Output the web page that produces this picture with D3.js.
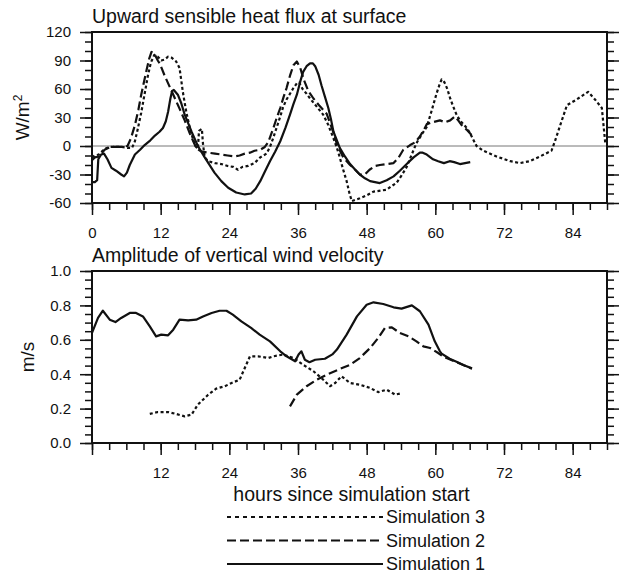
<!DOCTYPE html>
<html>
<head>
<meta charset="utf-8">
<script src="https://cdn.jsdelivr.net/npm/d3@7"></script>
<style>
	body { margin: 0; background: #fff; }
	svg text { font-family: "Liberation Sans", Arial, Helvetica, sans-serif; fill: #111; }
	.tick line { stroke: #111; stroke-width: 1.5; }
	.domain { display: none; }
</style>
</head>
<body>
<div id="chart"></div>
<script>
// hours since start, value
var flux1 = [[0,-38],[0.5,-38],[0.9,-36],[1.1,-14],[1.6,-9],[2.1,-8],[2.7,-14],[3.4,-23],[4.2,-26],[5.1,-30],[5.6,-32],[6.1,-28],[6.6,-20],[7.5,-9],[8.4,-4],[9.2,1],[10.2,6],[11.0,11],[11.8,15],[12.4,19],[12.9,26],[13.3,36],[13.7,50],[14.0,58],[14.3,59],[15.0,54],[15.6,45],[16.2,33],[16.8,24],[17.4,15],[18.5,0],[19.7,-12],[21.4,-28],[22.6,-37],[23.8,-44],[25.2,-49],[26.7,-51],[27.8,-50],[28.6,-45],[29.4,-37],[30.2,-27],[31.1,-16],[32.0,-6],[32.9,5],[33.8,19],[34.6,33],[35.2,44],[35.8,54],[36.4,68],[36.9,78],[37.5,84],[38.1,87],[38.6,87],[39.0,84],[39.6,75],[40.1,64],[40.7,52],[41.3,40],[41.8,27],[42.2,15],[43.3,-2],[44.2,-11],[45.1,-19],[46.0,-25],[46.8,-30],[47.7,-34],[48.6,-37],[50.3,-39],[51.5,-36],[52.7,-32],[53.8,-26],[55.0,-19],[56.2,-12],[57.3,-7],[57.8,-7],[58.5,-9],[59.6,-14],[60.5,-16],[61.5,-18],[62.5,-16],[63.3,-17],[64.3,-19],[65.2,-18],[66.1,-17]];
var flux2 = [[0,-15],[0.5,-12],[1.2,-11],[2.2,-4],[3.2,-1],[4.2,-1],[5.2,-1],[6.2,0],[6.8,8],[7.5,22],[8.1,38],[8.6,54],[9.1,68],[9.5,79],[10.0,92],[10.4,99],[10.9,97],[11.5,90],[11.9,86],[12.7,74],[13.6,62],[14.5,50],[15.4,38],[16.2,27],[17.1,13],[17.7,5],[18.3,-3],[19.2,-6],[20.3,-7],[21.5,-8],[22.6,-9],[23.7,-10],[24.9,-11],[25.8,-10],[26.7,-8],[27.6,-7],[28.4,-5],[29.4,-4],[30.2,-1],[30.8,4],[31.7,19],[32.3,30],[32.9,40],[33.5,52],[34.0,61],[34.6,74],[35.2,85],[35.8,89],[36.4,82],[37.0,70],[37.8,58],[38.7,50],[39.8,42],[41.0,34],[41.6,24],[42.2,14],[42.8,2],[43.9,-12],[45.1,-20],[46.0,-25],[46.8,-30],[47.7,-30],[48.5,-25],[49.5,-21],[50.3,-20],[51.5,-19],[52.7,-18],[53.6,-12],[54.4,-4],[55.6,1],[56.5,4],[57.3,10],[58.0,17],[58.5,23],[59.5,25],[60.8,27],[61.7,25],[62.6,27],[63.4,31],[64.0,27],[64.6,22],[65.5,17],[66.4,11]];
var flux3 = [[0,-12],[0.5,-10],[1.2,-9],[2.2,-3],[3.2,-1],[4.2,-1],[5.2,-1],[6.2,-2],[7.0,-2],[7.5,5],[8.0,18],[8.6,35],[9.2,55],[9.8,75],[10.3,88],[10.9,96],[11.5,94],[12.1,90],[12.7,91],[13.3,94],[13.9,93],[14.7,89],[15.3,82],[15.9,56],[16.5,35],[17.1,19],[17.7,6],[18.2,-1],[18.5,-3],[18.7,16],[19.2,18],[19.4,2],[19.7,-12],[20.3,-16],[21.5,-18],[22.6,-19],[23.7,-21],[24.7,-22],[25.5,-25],[26.3,-22],[27.3,-21],[28.4,-18],[29.4,-12],[30.5,-8],[31.1,-1],[31.7,9],[32.3,20],[32.9,31],[33.4,41],[34.0,49],[34.6,55],[35.2,61],[35.8,66],[36.2,67],[36.8,60],[37.5,55],[38.1,50],[39.2,42],[40.4,33],[41.3,22],[42.2,8],[42.8,-2],[43.3,-12],[43.9,-25],[44.5,-37],[45.0,-50],[45.4,-58],[46.8,-55],[48.0,-52],[49.2,-48],[50.4,-47],[51.5,-46],[52.4,-42],[53.2,-39],[54.1,-31],[55.0,-22],[55.8,-10],[56.7,3],[57.6,12],[58.5,20],[59.3,36],[60.2,55],[60.7,64],[61.1,70],[61.6,67],[62.1,60],[62.6,50],[63.1,42],[63.7,33],[64.3,27],[65.5,19],[66.1,13],[67.2,0],[68.4,-5],[70.7,-11],[73.1,-16],[74.8,-18],[76.5,-16],[78.3,-11],[80.3,-5],[80.9,5],[82.0,25],[83.0,43],[84.7,49],[86.7,57],[87.9,49],[89.1,40],[89.7,3]];

var amp1 = [[0,0.64],[1.05,0.727],[1.9,0.769],[3.1,0.717],[4.1,0.703],[5.1,0.727],[6.6,0.756],[7.7,0.756],[8.9,0.736],[10.1,0.678],[11.2,0.62],[12.1,0.63],[13.3,0.626],[14.2,0.659],[15.3,0.717],[16.8,0.713],[18.2,0.717],[19.4,0.736],[20.9,0.756],[22.3,0.769],[23.5,0.769],[24.6,0.746],[26.1,0.707],[27.8,0.669],[29.3,0.63],[31.1,0.591],[32.9,0.533],[34.0,0.504],[35.5,0.475],[36.1,0.514],[36.6,0.533],[37.2,0.484],[38.0,0.47],[39.0,0.484],[40.7,0.49],[42.0,0.515],[42.8,0.543],[44.5,0.63],[46.3,0.736],[48.0,0.804],[49.2,0.818],[50.9,0.808],[52.7,0.789],[54.1,0.781],[55.9,0.80],[57.3,0.766],[58.8,0.688],[59.9,0.591],[60.8,0.533],[61.1,0.52],[62.5,0.49],[63.7,0.473],[65.0,0.452],[66.4,0.434]];
var amp2 = [[34.6,0.213],[35.8,0.281],[37.5,0.33],[39.3,0.368],[41,0.397],[43,0.426],[45.1,0.455],[46.8,0.494],[48.6,0.552],[50,0.61],[51.2,0.669],[52.4,0.672],[53.8,0.64],[55.3,0.62],[56.7,0.591],[57.9,0.562],[59.1,0.552],[60.5,0.523],[61.5,0.5],[63.7,0.47],[66.4,0.432]];
var amp3 = [[10.1,0.169],[11.5,0.18],[13.3,0.18],[14.7,0.169],[16.2,0.155],[17.4,0.165],[18.5,0.223],[20.3,0.281],[21.7,0.316],[23.2,0.33],[24.4,0.349],[25.8,0.368],[26.7,0.436],[27.6,0.504],[29,0.504],[30.8,0.494],[31.7,0.504],[33.4,0.514],[35.2,0.494],[36.9,0.455],[38.7,0.417],[40.1,0.378],[41.6,0.33],[42.5,0.349],[43.6,0.388],[45.1,0.349],[46.8,0.339],[48.6,0.32],[50,0.296],[51.5,0.31],[53,0.281],[54.1,0.29]];

var hourTicks = [0, 12, 24, 36, 48, 60, 72, 84];
var fluxTicks = [-60, -30, 0, 30, 60, 90, 120];
var ampTicks = [0, 0.2, 0.4, 0.6, 0.8, 1.0];
var simNames = ["Simulation 3", "Simulation 2", "Simulation 1"];

var width = 624, height = 588;
var left = 92, right = 607;
var dashes = {1: null, 2: "9,4", 3: "3,2.5"};

var svg = d3.select("#chart").append("svg")
	.attr("width", width)
	.attr("height", height);

var x = d3.scaleLinear().domain([0, 90]).range([left, right]);
var yFlux = d3.scaleLinear().domain([-60, 120]).range([203, 32]);
var yAmp = d3.scaleLinear().domain([0, 1]).range([443, 271]);

function panel(y, yTicks, yMinorStep, yFmt, showZeroLabel, title, ylab, ylabX, series) {
	var top = y.range()[1], bottom = y.range()[0];
	var g = svg.append("g");
	var ydom = y.domain();

	// minor ticks
	g.append("g").attr("transform", "translate(0," + bottom + ")")
		.call(d3.axisBottom(x).tickValues(d3.range(0, 91, 3)).tickSize(7).tickFormat(""));
	g.append("g").attr("transform", "translate(" + left + ",0)")
		.call(d3.axisLeft(y).tickValues(d3.range(ydom[0], ydom[1] + 1e-9, yMinorStep)).tickSize(7).tickFormat(""));
	g.append("g").attr("transform", "translate(" + right + ",0)")
		.call(d3.axisRight(y).tickValues(d3.range(ydom[0], ydom[1] + 1e-9, yMinorStep)).tickSize(7).tickFormat(""));

	// major ticks
	var xt = showZeroLabel ? hourTicks : hourTicks.filter(function(d){ return d > 0; });
	g.append("g").attr("transform", "translate(0," + bottom + ")")
		.call(d3.axisBottom(x).tickValues(hourTicks).tickSize(12).tickPadding(12)
			.tickFormat(function(d){ return xt.indexOf(d) >= 0 ? d : ""; }))
		.selectAll("text").style("font-size", "15px");
	g.append("g").attr("transform", "translate(" + left + ",0)")
		.call(d3.axisLeft(y).tickValues(yTicks).tickSize(12).tickPadding(9).tickFormat(yFmt))
		.selectAll("text").style("font-size", "15px");
	g.append("g").attr("transform", "translate(" + right + ",0)")
		.call(d3.axisRight(y).tickValues(yTicks).tickSize(12).tickFormat(""));

	if (ydom[0] < 0) {
		g.append("line")
			.attr("x1", left).attr("x2", right)
			.attr("y1", y(0)).attr("y2", y(0))
			.attr("stroke", "#777").attr("stroke-width", 1);
	}

	var line = d3.line().x(function(d){ return x(d[0]); }).y(function(d){ return y(d[1]); });
	series.forEach(function(s) {
		g.append("path")
			.datum(s.data)
			.attr("fill", "none")
			.attr("stroke", "#111")
			.attr("stroke-width", 2.2)
			.attr("stroke-linejoin", "round")
			.attr("stroke-dasharray", dashes[s.sim])
			.attr("d", line);
	});

	g.append("rect")
		.attr("x", left).attr("y", top)
		.attr("width", right - left).attr("height", bottom - top)
		.attr("fill", "none").attr("stroke", "#111").attr("stroke-width", 2);

	g.append("text")
		.attr("x", left).attr("y", top - 9)
		.style("font-size", "19.5px")
		.text(title);

	var yl = g.append("text")
		.attr("transform", "translate(" + ylabX + "," + ((top + bottom) / 2) + ") rotate(-90)")
		.attr("text-anchor", "middle")
		.style("font-size", "19px");
	yl.append("tspan").text(ylab[0]);
	if (ylab[1]) yl.append("tspan").attr("dy", "-0.55em").style("font-size", "12px").text(ylab[1]);
}

panel(yFlux, fluxTicks, 10, function(d){ return d; }, true,
	"Upward sensible heat flux at surface", ["W/m", "2"], 29,
	[{sim: 1, data: flux1}, {sim: 2, data: flux2}, {sim: 3, data: flux3}]);

panel(yAmp, ampTicks, 0.05, d3.format(".1f"), false,
	"Amplitude of vertical wind velocity", ["m/s"], 34,
	[{sim: 1, data: amp1}, {sim: 2, data: amp2}, {sim: 3, data: amp3}]);

svg.append("text")
	.attr("x", (left + right) / 2 + 2).attr("y", 501)
	.attr("text-anchor", "middle")
	.style("font-size", "19.5px")
	.text("hours since simulation start");

// legend
var leg = svg.append("g");
simNames.forEach(function(name, i) {
	var yy = 517 + i * 23.5;
	var sim = 3 - i;
	leg.append("line")
		.attr("x1", 227).attr("x2", 383)
		.attr("y1", yy).attr("y2", yy)
		.attr("stroke", "#111").attr("stroke-width", 2)
		.attr("stroke-dasharray", sim == 3 ? "4,4" : (sim == 2 ? "9,4" : null));
	leg.append("text")
		.attr("x", 386).attr("y", yy + 6)
		.style("font-size", "18px")
		.text(name);
});
</script>
</body>
</html>
